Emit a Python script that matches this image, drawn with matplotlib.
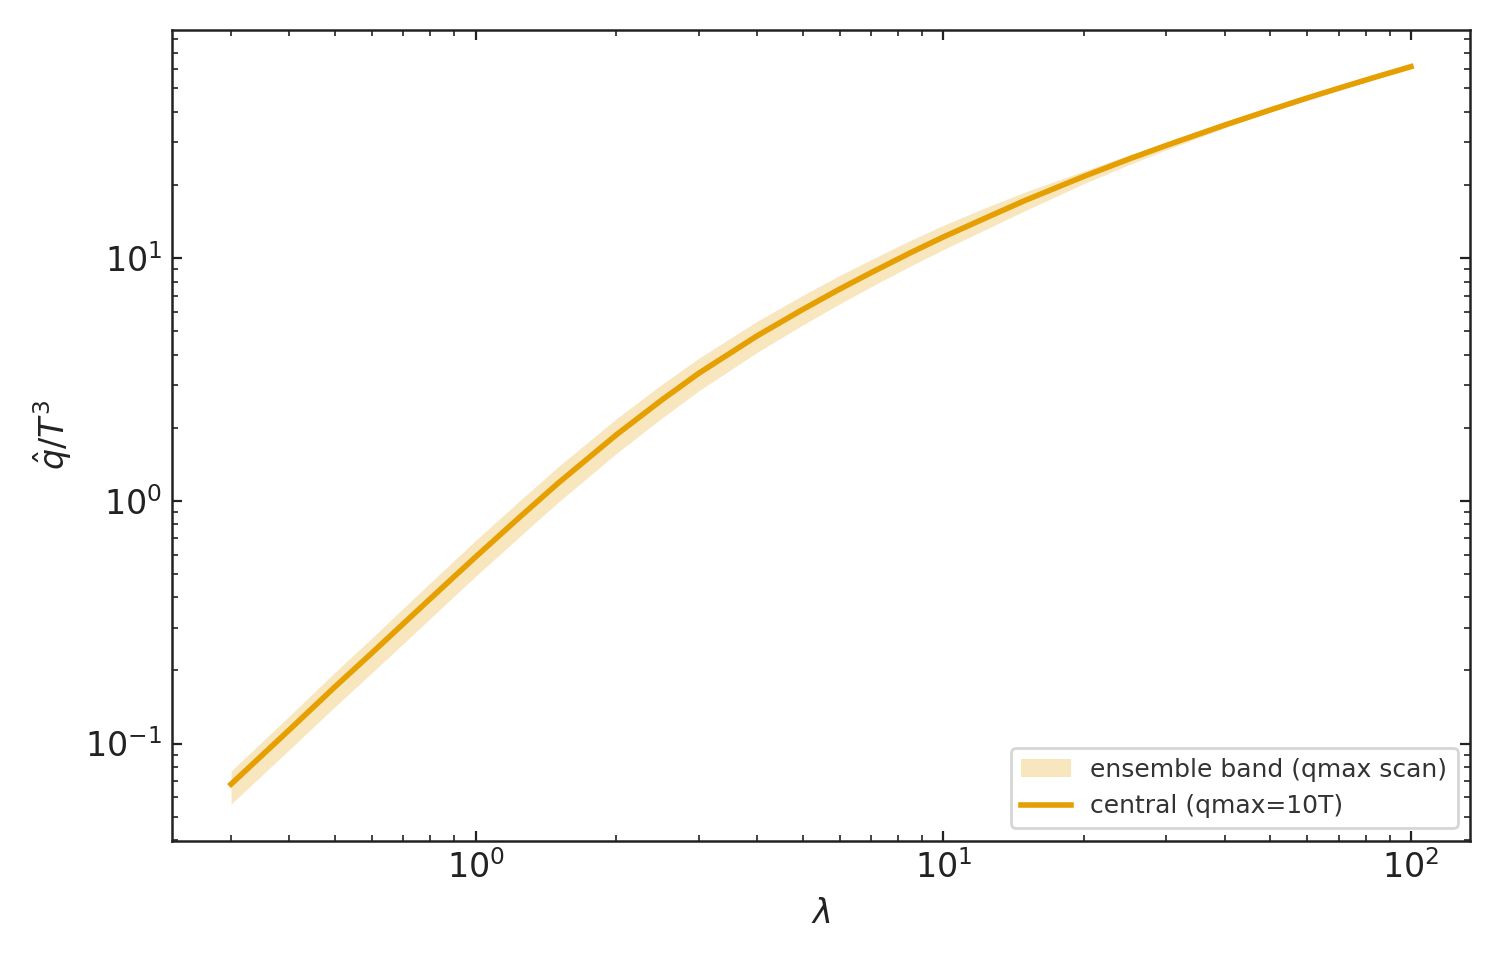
import numpy as np
import matplotlib
matplotlib.use("Agg")
import matplotlib.pyplot as plt

# values (log-log)
lam = [0.3, 0.4, 0.5, 0.6, 0.7, 0.85, 1, 1.25, 1.5, 1.75, 2, 2.5, 3, 4, 5,
       6, 7, 8.5, 10, 12.5, 15, 20, 25, 30, 40, 50, 60, 70, 85, 100]
qhat = [0.068, 0.114, 0.171, 0.236, 0.311, 0.440, 0.587, 0.865, 1.18, 1.51,
        1.87, 2.60, 3.35, 4.78, 6.13, 7.44, 8.69, 10.5, 12.2, 14.8,
        17.3, 21.7, 25.6, 29.1, 35.3, 40.7, 45.6, 50.0, 56.0, 61.4]
band_hi = [0.0770, 0.1300, 0.1963, 0.2721, 0.3604, 0.5122, 0.6862, 1.011, 1.379, 1.762,
           2.177, 3.013, 3.863, 5.487, 7.007, 8.467, 9.837, 11.81, 13.63, 16.31,
           18.75, 22.83, 26.57, 29.91, 35.97, 41.19, 46.01, 50.25, 56.11, 61.4]
band_lo = [0.0563, 0.0944, 0.1416, 0.1954, 0.2575, 0.3652, 0.4884, 0.7197, 0.9841, 1.262,
           1.567, 2.187, 2.837, 4.087, 5.290, 6.465, 7.604, 9.251, 10.82, 13.28,
           15.71, 20.25, 24.27, 27.91, 34.35, 39.97, 44.96, 49.65, 55.89, 61.4]

col = "#E69F00"

plt.rcParams["font.family"] = ["DejaVu Sans"]
fig = plt.figure(figsize=(7.5, 4.8), dpi=200)
ax = fig.add_axes([0.1147, 0.124, 0.8653, 0.845])

ax.fill_between(lam, band_lo, band_hi, color=col, alpha=0.25, lw=0,
                label="ensemble band (qmax scan)")
ax.plot(lam, qhat, color=col, lw=2, label="central (qmax=10T)")

ax.set_xscale("log")
ax.set_yscale("log")
ax.set_xlabel(r"$\lambda$", fontsize=12, color="#222222")
ax.set_ylabel(r"$\hat{q}/T^3$", fontsize=12, color="#222222")

ax.tick_params(which="both", direction="in", top=True, right=True, colors="#222222")
ax.tick_params(which="major", length=3.5, width=0.8, labelsize=12)
ax.tick_params(which="minor", length=2, width=0.6)
for s in ax.spines.values():
    s.set_color("#222222")
    s.set_linewidth(0.9)

leg = ax.legend(loc="lower right", fontsize=9, frameon=True, fancybox=True)
for t in leg.get_texts():
    t.set_color("#333333")

fig.savefig("out.png", dpi=200)
